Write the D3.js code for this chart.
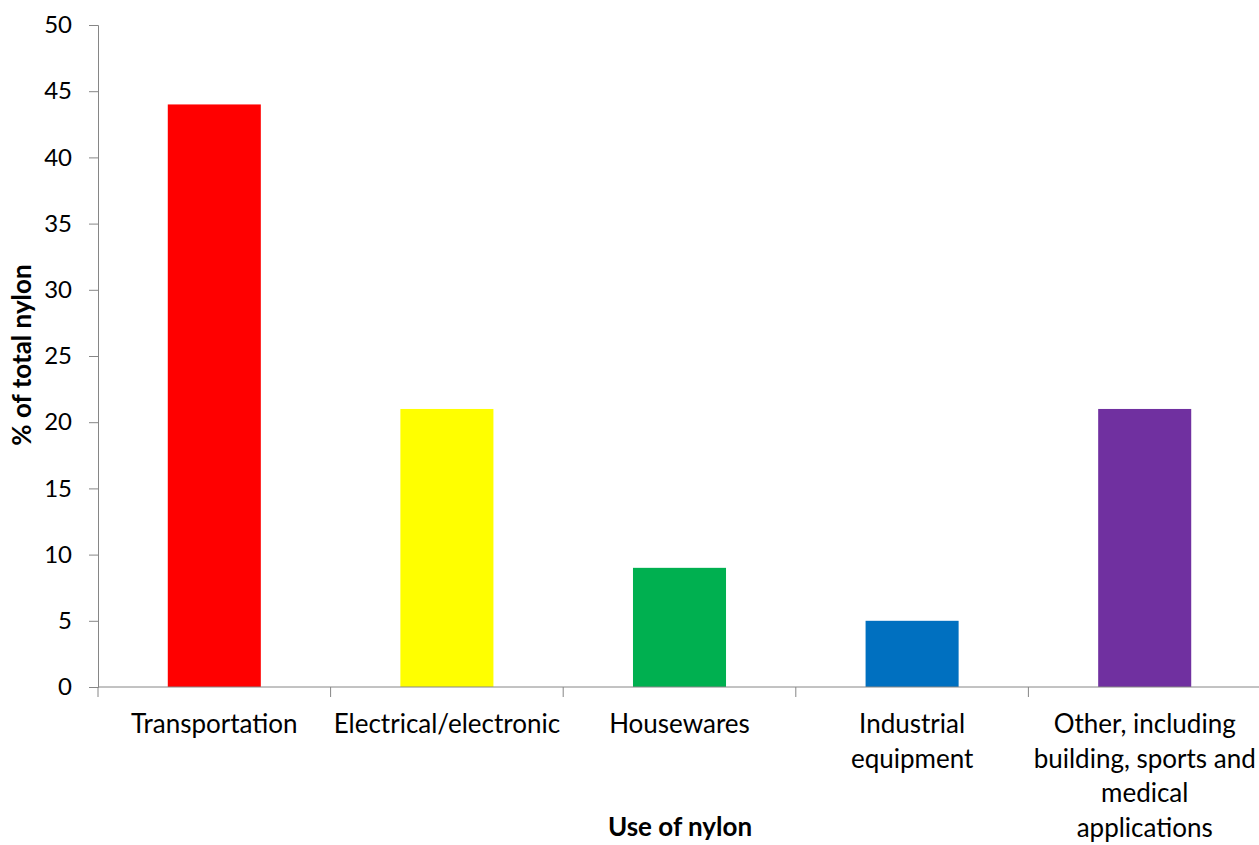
<!DOCTYPE html>
<html>
<head>
<meta charset="utf-8">
<script src="https://cdn.jsdelivr.net/npm/d3@7"></script>
<style>
  body { margin: 0; background: #fff; }
  text { font-family: Lato, "Open Sans", sans-serif; fill: #000; }
</style>
</head>
<body>
<script>
// chart data
var categories = ['Transportation', 'Electrical/electronic', 'Housewares', 'Industrial equipment', 'Other, including building, sports and medical applications'];
var labelLines = [
  ['Transportation'],
  ['Electrical/electronic'],
  ['Housewares'],
  ['Industrial', 'equipment'],
  ['Other, including', 'building, sports and', 'medical', 'applications']
];
var values = [44, 21, 9, 5, 21];
var barColors = ['#FF0000', '#FFFF00', '#00B050', '#0070C0', '#7030A0'];
var yTicks = [0, 5, 10, 15, 20, 25, 30, 35, 40, 45, 50];

var width = 1259, height = 845;
var margin = { left: 98, top: 25, right: -2, bottom: 158 };

var svg = d3.select('body').append('svg')
  .attr('width', width)
  .attr('height', height);

var x = d3.scaleBand()
  .domain(categories)
  .range([margin.left, width - margin.right])
  .padding(0);

var y = d3.scaleLinear()
  .domain([0, 50])
  .range([height - margin.bottom, margin.top]);

var barW = x.bandwidth() * 0.4;

// bars
svg.selectAll('rect.bar')
  .data(values)
  .enter().append('rect')
  .attr('class', 'bar')
  .attr('x', function (d, i) { return x(categories[i]) + (x.bandwidth() - barW) / 2; })
  .attr('y', function (d) { return y(d); })
  .attr('width', barW)
  .attr('height', function (d) { return y(0) - y(d); })
  .attr('fill', function (d, i) { return barColors[i]; });

// y axis
var yAxis = svg.append('g')
  .attr('transform', 'translate(' + margin.left + ',0)')
  .call(d3.axisLeft(y).tickValues(yTicks).tickSize(9).tickPadding(17));
yAxis.select('.domain').attr('stroke', '#868686');
yAxis.selectAll('.tick line').attr('stroke', '#868686');
yAxis.selectAll('.tick text').style('font-size', '24px').attr('fill', '#000');

// x axis: ticks at category boundaries
var boundaries = categories.map(function (c) { return x(c); }).concat([x(categories[categories.length - 1]) + x.bandwidth()]);
var xAxis = svg.append('g');
xAxis.append('line')
  .attr('x1', margin.left).attr('x2', width)
  .attr('y1', y(0)).attr('y2', y(0))
  .attr('stroke', '#868686');
xAxis.selectAll('line.tk')
  .data(boundaries)
  .enter().append('line')
  .attr('class', 'tk')
  .attr('x1', function (d) { return d; }).attr('x2', function (d) { return d; })
  .attr('y1', y(0)).attr('y2', y(0) + 10)
  .attr('stroke', '#868686');

// category labels
var lbl = svg.selectAll('text.cat')
  .data(labelLines)
  .enter().append('text')
  .attr('class', 'cat')
  .attr('text-anchor', 'middle')
  .style('font-size', '26px')
  .attr('transform', function (d, i) { return 'translate(' + (x(categories[i]) + x.bandwidth() / 2) + ',' + (y(0) + 46) + ')'; });
lbl.selectAll('tspan')
  .data(function (d) { return d; })
  .enter().append('tspan')
  .attr('x', 0)
  .attr('dy', function (d, i) { return i === 0 ? 0 : 34.5; })
  .text(function (d) { return d; });

// axis titles
svg.append('text')
  .attr('x', 680).attr('y', 836)
  .attr('text-anchor', 'middle')
  .style('font-size', '26px')
  .style('font-weight', 'bold')
  .text('Use of nylon');

svg.append('text')
  .attr('transform', 'translate(31,355) rotate(-90)')
  .attr('text-anchor', 'middle')
  .style('font-size', '26px')
  .style('font-weight', 'bold')
  .text('% of total nylon');
</script>
</body>
</html>
